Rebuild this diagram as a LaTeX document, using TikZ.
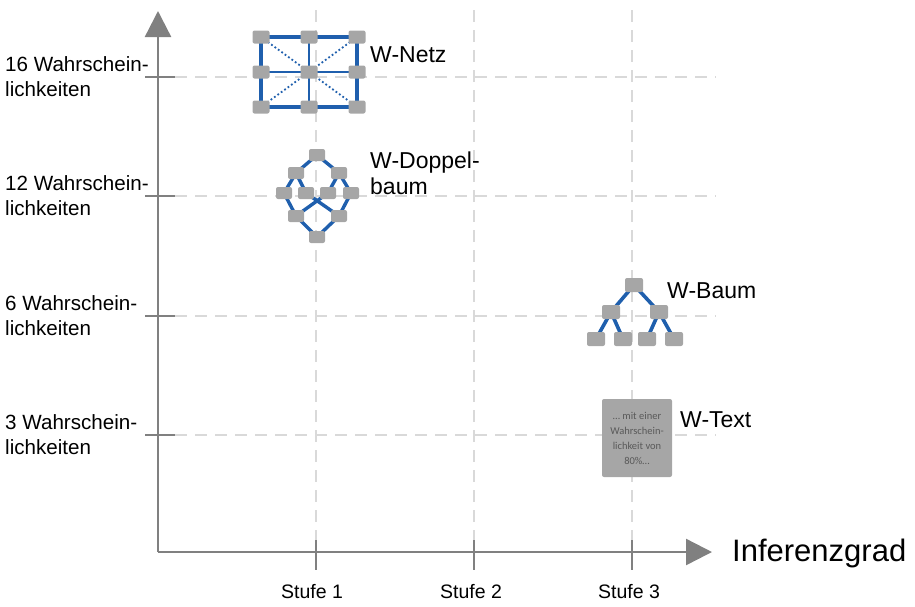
\documentclass[tikz,border=0pt]{standalone}
\usepackage{fontspec}
\setmainfont{Liberation Sans}
\newfontfamily\boxfont{Carlito}
\usetikzlibrary{arrows.meta}
\definecolor{axisgray}{HTML}{808080}
\definecolor{gridgray}{HTML}{D9D9D9}
\definecolor{nodegray}{HTML}{A6A6A6}
\definecolor{linkblue}{HTML}{1F5FAD}
\definecolor{boxtext}{HTML}{595959}
\tikzset{
  axisline/.style={draw=axisgray, line width=2.4pt},
  tickline/.style={draw=axisgray, line width=1.6pt},
  gridline/.style={draw=gridgray, line width=1.3pt, dash pattern=on 12pt off 8pt},
  vnode/.style={fill=nodegray, rounded corners=2pt, inner sep=0pt, minimum width=#1, minimum height=12pt},
  vnode/.default=16pt,
  link/.style={draw=linkblue, line width=3.6pt},
  thinlink/.style={draw=linkblue, line width=2pt},
  dotlink/.style={draw=linkblue, line width=1.8pt, dash pattern=on 1.8pt off 2.4pt},
  ylabel/.style={align=left, anchor=west, font=\fontsize{20.6}{25}\selectfont, inner sep=0pt},
  xlabel/.style={font=\fontsize{19.5}{21}\selectfont, inner sep=0pt},
  maplabel/.style={anchor=west, align=left, font=\fontsize{23}{26}\selectfont, inner sep=0pt}
}
\begin{document}
\begin{tikzpicture}[x=1pt, y=-1pt]
\useasboundingbox (0,0) rectangle (915,606);

% grid lines
\foreach \yy in {77,196,316,435} \draw[gridline] (175,\yy) -- (716,\yy);
\foreach \xx in {316,474,632} \draw[gridline] (\xx,10) -- (\xx,540);

% ticks
\foreach \yy in {77,196,316,435} \draw[tickline] (145,\yy) -- (175,\yy);
\foreach \xx in {316,474,632} \draw[tickline] (\xx,540) -- (\xx,570);

% axes
\coordinate (origin) at (158,552);
\coordinate (ytip) at (158,11);
\coordinate (xtip) at (712,552);
\draw[axisline, -{Triangle[length=26pt, width=26pt]}] (origin) -- (ytip);
\draw[axisline, -{Triangle[length=26pt, width=26pt]}] (origin) -- (xtip);

% axis labels
\node[ylabel] (y16) at (5,77) {16 Wahrschein-\\lichkeiten};
\node[ylabel] (y12) at (5,196) {12 Wahrschein-\\lichkeiten};
\node[ylabel] (y6)  at (5,316) {6 Wahrschein-\\lichkeiten};
\node[ylabel] (y3)  at (5,435) {3 Wahrschein-\\lichkeiten};
\node[xlabel] (s1) at (312,592) {Stufe 1};
\node[xlabel] (s2) at (471,592) {Stufe 2};
\node[xlabel] (s3) at (629,592) {Stufe 3};
\node[anchor=west, inner sep=0pt, font=\fontsize{31}{33}\selectfont] (inf) at (732,553) {Inferenzgrad};

% W-Netz
\foreach \c/\xx in {a/261,b/309,c/357}
  \foreach \r/\yy in {1/37,2/72,3/107}
    \coordinate (n\c\r) at (\xx,\yy);
\draw[dotlink] (na1) -- (nc3) (nc1) -- (na3);
\draw[thinlink] (nb1) -- (nb3) (na2) -- (nc2);
\draw[link] (na1) rectangle (nc3);
\foreach \c in {a,b,c} \foreach \r in {1,2,3}
  \node[vnode, minimum height=13pt, minimum width=17pt] (N\c\r) at (n\c\r) {};
\node[maplabel] (lnetz) at (370,55) {W-Netz};

% W-Doppelbaum
\coordinate (d1) at (317,155);
\coordinate (d2) at (296,173);
\coordinate (d3) at (339,173);
\coordinate (d4) at (284,193);
\coordinate (d5) at (306,193);
\coordinate (d6) at (328,193);
\coordinate (d7) at (351,193);
\coordinate (d8) at (296,216);
\coordinate (d9) at (339,216);
\coordinate (d10) at (317,237);
\foreach \p/\q in {d1/d2,d1/d3,d2/d4,d2/d5,d3/d6,d3/d7,d4/d8,d7/d9,d5/d9,d6/d8,d8/d10,d9/d10}
  \draw[link, line width=3.4pt] (\p) -- (\q);
\foreach \n in {d1,d2,d3,d4,d5,d6,d7,d8,d9,d10}
  \node[vnode, minimum height=12pt] (D\n) at (\n) {};
\node[maplabel] (ldoppel) at (370,173) {W-Doppel-\\baum};

% W-Baum
\coordinate (b1) at (634,285);
\coordinate (b2) at (611,312);
\coordinate (b3) at (659,312);
\coordinate (b4) at (596,339);
\coordinate (b5) at (623,339);
\coordinate (b6) at (647,339);
\coordinate (b7) at (674,339);
\foreach \p/\q in {b1/b2,b1/b3,b2/b4,b2/b5,b3/b6,b3/b7}
  \draw[link] (\p) -- (\q);
\foreach \n in {b1,b2,b3,b4,b5,b6,b7}
  \node[vnode, minimum width=18pt, minimum height=14pt] (B\n) at (\n) {};
\node[maplabel] (lbaum) at (667,291) {W-Baum};

% W-Text
\node[fill=nodegray, rounded corners=2pt, minimum width=70pt, minimum height=78pt, inner sep=0pt,
      align=center, text=boxtext, font=\boxfont\fontsize{10.5}{15}\selectfont] (wtext) at (637,438)
      {\ldots{} mit einer\\Wahrschein-\\lichkeit von\\80\%\ldots};
\node[maplabel] (ltext) at (680,420) {W-Text};
\end{tikzpicture}
\end{document}
